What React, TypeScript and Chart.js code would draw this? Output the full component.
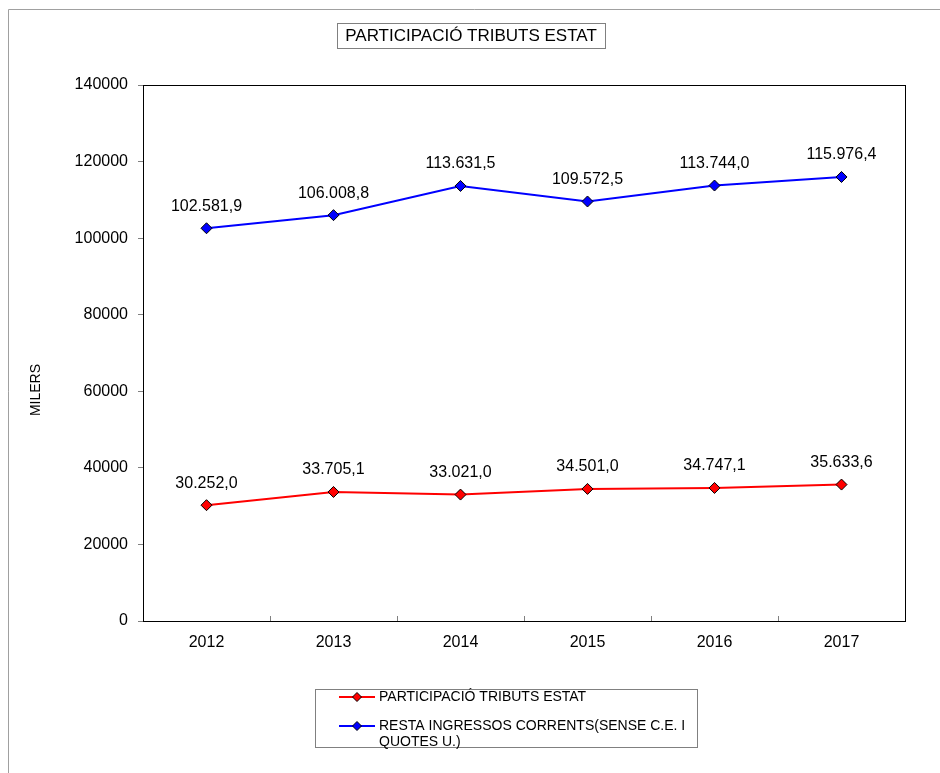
import React, { useEffect, useRef } from "react";
import { Chart, registerables } from "chart.js";

Chart.register(...registerables);

const categories = ["2012", "2013", "2014", "2015", "2016", "2017"];
const participacioValues = [30252.0, 33705.1, 33021.0, 34501.0, 34747.1, 35633.6];
const restaValues = [102581.9, 106008.8, 113631.5, 109572.5, 113744.0, 115976.4];
const seriesNames = ["PARTICIPACIÓ TRIBUTS ESTAT", "RESTA INGRESSOS CORRENTS(SENSE C.E. I QUOTES U.)"];
const legendLines = [["PARTICIPACIÓ TRIBUTS ESTAT"], ["RESTA INGRESSOS CORRENTS(SENSE C.E. I", "QUOTES U.)"]];
const chartTitle = "PARTICIPACIÓ TRIBUTS ESTAT";
const yAxisTitle = "MILERS";
const yMin = 0;
const yMax = 140000;
const yStep = 20000;

const FONT = "'Liberation Sans', Arial, sans-serif";

function fmt(v: number): string {
  const [i, d] = v.toFixed(1).split(".");
  return i.replace(/\B(?=(\d{3})+(?!\d))/g, ".") + "," + d;
}

function diamond(ctx: CanvasRenderingContext2D, x: number, y: number, r: number, fill: string) {
  ctx.beginPath();
  ctx.moveTo(x, y - r);
  ctx.lineTo(x + r, y);
  ctx.lineTo(x, y + r);
  ctx.lineTo(x - r, y);
  ctx.closePath();
  ctx.fillStyle = fill;
  ctx.fill();
  ctx.strokeStyle = "#000";
  ctx.lineWidth = 1;
  ctx.stroke();
}

const decorPlugin = {
  id: "decor",
  beforeDraw(chart: any) {
    const ctx = chart.ctx as CanvasRenderingContext2D;
    ctx.save();
    ctx.fillStyle = "#fff";
    ctx.fillRect(0, 0, chart.width, chart.height);
    ctx.strokeStyle = "#a0a0a0";
    ctx.lineWidth = 1;
    ctx.beginPath();
    ctx.moveTo(8.5, chart.height);
    ctx.lineTo(8.5, 9.5);
    ctx.lineTo(chart.width, 9.5);
    ctx.stroke();
    ctx.restore();
  },
  afterDraw(chart: any) {
    const ctx = chart.ctx as CanvasRenderingContext2D;
    const a = chart.chartArea;
    const xs = chart.scales.x;
    ctx.save();
    // plot frame
    ctx.strokeStyle = "#000";
    ctx.lineWidth = 1;
    ctx.strokeRect(Math.round(a.left) + 0.5, Math.round(a.top) + 0.5, Math.round(a.right - a.left), Math.round(a.bottom - a.top));
    // x boundary ticks (inside)
    ctx.strokeStyle = "#808080";
    for (let i = 0; i < categories.length - 1; i++) {
      const x = Math.round((xs.getPixelForValue(i) + xs.getPixelForValue(i + 1)) / 2) + 0.5;
      ctx.beginPath();
      ctx.moveTo(x, a.bottom);
      ctx.lineTo(x, a.bottom - 5);
      ctx.stroke();
    }
    // title box
    ctx.strokeStyle = "#808080";
    ctx.strokeRect(337.5, 23.5, 268, 25);
    ctx.fillStyle = "#000";
    ctx.font = `17px ${FONT}`;
    ctx.textAlign = "center";
    ctx.textBaseline = "middle";
    ctx.fillText(chartTitle, 471, 36.5);
    // y axis title
    ctx.save();
    ctx.translate(36, 390);
    ctx.rotate(-Math.PI / 2);
    ctx.font = `14px ${FONT}`;
    ctx.fillText(yAxisTitle, 0, 0);
    ctx.restore();
    // data labels
    ctx.font = `16px ${FONT}`;
    ctx.textAlign = "center";
    ctx.textBaseline = "middle";
    chart.data.datasets.forEach((ds: any, di: number) => {
      const meta = chart.getDatasetMeta(di);
      meta.data.forEach((pt: any, i: number) => {
        ctx.fillText(fmt(ds.data[i]), pt.x, pt.y - 22);
      });
    });
    // legend
    ctx.strokeStyle = "#808080";
    ctx.lineWidth = 1;
    ctx.strokeRect(315.5, 689.5, 382, 58);
    const rows = [697, 726];
    ctx.font = `14px ${FONT}`;
    ctx.textAlign = "left";
    chart.data.datasets.forEach((ds: any, di: number) => {
      const y = rows[di];
      ctx.strokeStyle = ds.borderColor;
      ctx.lineWidth = 2;
      ctx.beginPath();
      ctx.moveTo(339, y);
      ctx.lineTo(375, y);
      ctx.stroke();
      diamond(ctx, 357, y, 4.5, ds.pointBackgroundColor);
      ctx.fillStyle = "#000";
      legendLines[di].forEach((t, li) => {
        ctx.fillText(t, 379, y + li * 16);
      });
    });
    ctx.restore();
  },
};

export default function App() {
  const ref = useRef<HTMLCanvasElement | null>(null);
  useEffect(() => {
    if (!ref.current) return;
    const chart = new Chart(ref.current, {
      type: "line",
      data: {
        labels: categories,
        datasets: [
          {
            label: seriesNames[0],
            data: participacioValues,
            borderColor: "#ff0000",
            backgroundColor: "#ff0000",
            pointBackgroundColor: "#ff0000",
            pointBorderColor: "#000",
            pointBorderWidth: 1,
            pointStyle: "rectRot",
            pointRadius: 5.5,
            borderWidth: 2,
            tension: 0,
          },
          {
            label: seriesNames[1],
            data: restaValues,
            borderColor: "#0000ff",
            backgroundColor: "#0000ff",
            pointBackgroundColor: "#0000ff",
            pointBorderColor: "#000",
            pointBorderWidth: 1,
            pointStyle: "rectRot",
            pointRadius: 5.5,
            borderWidth: 2,
            tension: 0,
          },
        ],
      },
      options: {
        responsive: false,
        animation: false,
        devicePixelRatio: 1,
        layout: { padding: { left: 0, top: 85, right: 35, bottom: 112 } },
        plugins: { legend: { display: false }, title: { display: false }, tooltip: { enabled: false } },
        scales: {
          x: {
            type: "category",
            offset: true,
            grid: { display: false, drawTicks: false },
            border: { display: false },
            ticks: { color: "#000", font: { family: FONT, size: 16 }, padding: 12, maxRotation: 0 },
            afterFit: (s: any) => { s.height = 40; },
          },
          y: {
            min: yMin,
            max: yMax,
            grid: { drawOnChartArea: false, drawTicks: true, tickLength: 5, color: "#808080" },
            border: { display: false },
            ticks: {
              stepSize: yStep,
              color: "#000",
              padding: 10,
              font: { family: FONT, size: 16 },
              callback: (v: any) => String(v),
            },
            afterFit: (s: any) => { s.width = 143; },
          },
        },
      },
      plugins: [decorPlugin],
    } as any);
    return () => chart.destroy();
  }, []);
  return (
    <div style={{ position: "absolute", left: 0, top: 0, width: 940, height: 773 }}>
      <canvas ref={ref} width={940} height={773} style={{ width: 940, height: 773, display: "block" }} />
    </div>
  );
}
